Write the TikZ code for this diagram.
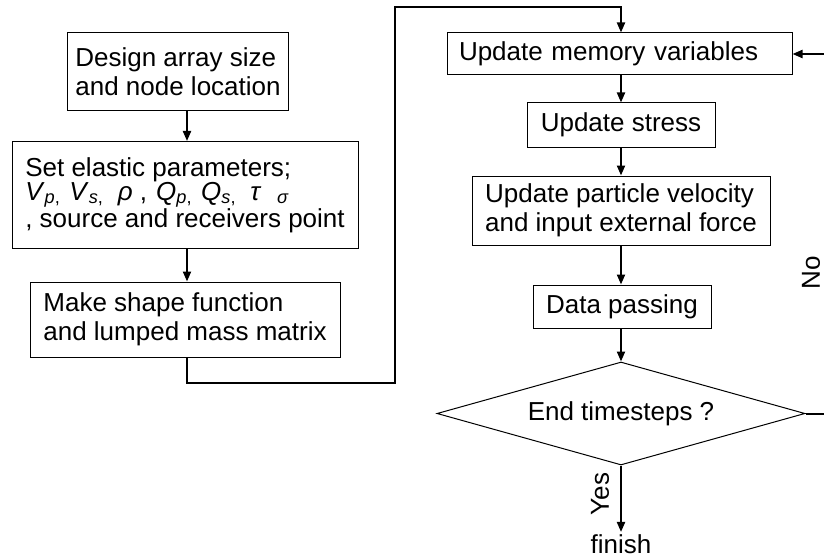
\documentclass[tikz,border=0pt]{standalone}
\usepackage{fontspec}
\setmainfont{Liberation Sans}
\usetikzlibrary{shapes.geometric,arrows.meta}

\begin{document}
\begin{tikzpicture}[x=1pt, y=-1pt, font=\fontsize{26}{29}\selectfont,
  box/.style={draw, line width=1pt, inner xsep=12pt, inner ysep=0pt, align=left},
  conn/.style={line width=2pt, -{Triangle[length=10pt,width=8pt]}},
  decision/.style={diamond, draw, line width=1pt, inner sep=0pt, aspect=3.5}]
  % --- canvas ---
  \clip (0,0) rectangle (824,559);
  \coordinate (colL) at (187,0);
  \coordinate (colR) at (621,0);
  % --- preprocessing ---
  \node[box, inner xsep=8pt, minimum width=218, minimum height=78] (design) at (178,72)
    {Design array size\\and node location};
  \node[box, inner xsep=6pt, minimum width=346, minimum height=107] (param) at (185,195)
    {Set elastic parameters;\\[-5pt]
     \textit{V}\textsubscript{\textit{p},}\hspace{0.35em}\textit{V}\textsubscript{\textit{s},}\hspace{0.55em}\textit{ρ} ,\hspace{0.35em}\textit{Q}\textsubscript{\textit{p},}\hspace{0.35em}\textit{Q}\textsubscript{\textit{s},}\hspace{0.55em}\textit{τ}\hspace{0.6em}\textsubscript{\textit{σ}}\\[-2pt]
     , source and receivers point};
  \node[box, minimum width=310, minimum height=75] (shape) at (185,319.5)
    {Make shape function\\and lumped mass matrix};
  % --- time loop ---
  \node[box, text width=321, minimum height=42] (memory) at (619.5,54) {Update memory variables};
  \node[box, minimum width=188, minimum height=44] (stress) at (621,125) {Update stress};
  \node[box, minimum width=298, minimum height=69] (velocity) at (621,210.5)
    {Update particle velocity\\and input external force};
  \node[box, minimum width=178, minimum height=43] (passing) at (622,306.5) {Data passing};
  \node[decision, minimum width=368, minimum height=103] (check) at (621,413.5) {End timesteps ?};
  \node[anchor=base, inner sep=2pt] (finish) at (621,553) {finish};
  \node[rotate=90] (yes) at (600,494) {Yes};
  \node[rotate=90] (no) at (811,273) {No};
  % --- connectors ---
  \coordinate (bendA) at (395,383);
  \coordinate (bendB) at (621,7);
  \coordinate (loopR) at (830,0);
  \draw[conn] (design.south -| colL) -- (param.north -| colL);
  \draw[conn] (param.south -| colL) -- (shape.north -| colL);
  \draw[conn] (shape.south -| colL) |- (bendA) |- (bendB) -- (memory.north -| bendB);
  \draw[conn] (memory.south -| colR) -- (stress.north -| colR);
  \draw[conn] (stress.south -| colR) -- (velocity.north -| colR);
  \draw[conn] (velocity.south -| colR) -- (passing.north -| colR);
  \draw[conn] (passing.south -| colR) -- (check.north);
  \draw[conn] (check.south) -- (finish.north);
  \draw[conn] (check.east) -- (check.east -| loopR) |- (memory.east);
\end{tikzpicture}
\end{document}
